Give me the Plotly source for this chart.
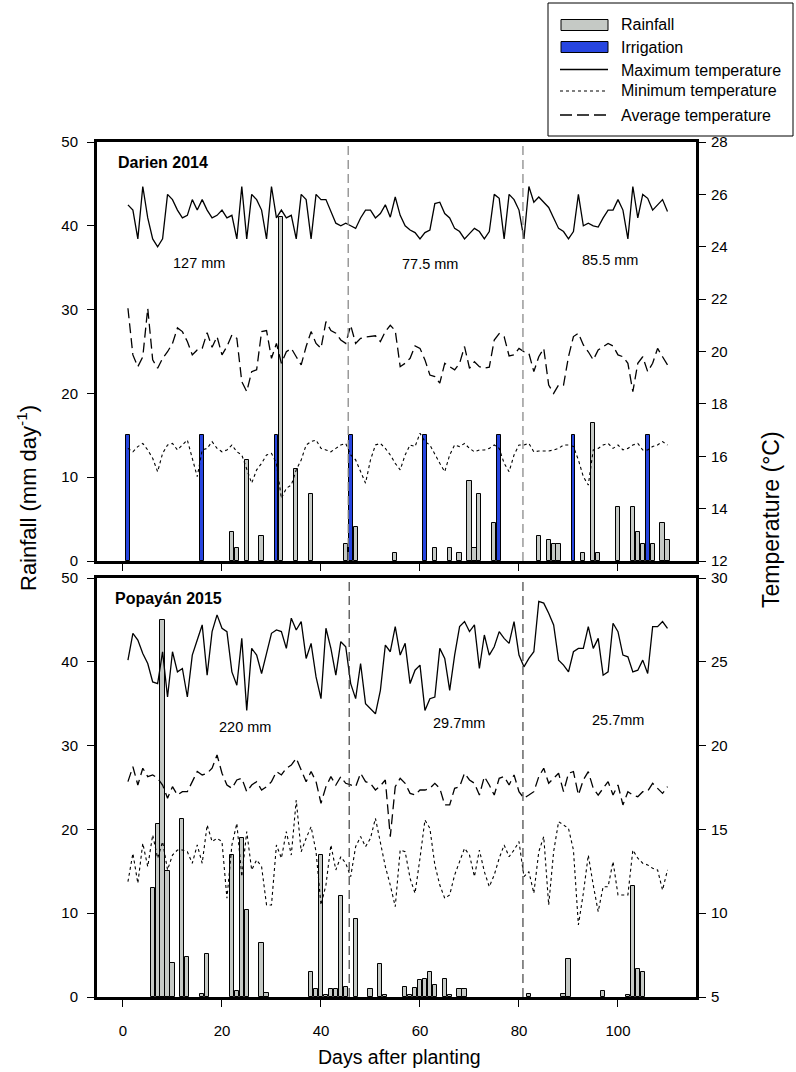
import plotly.graph_objects as go

# ---------------- data ----------------
days = list(range(1, 111))

top_max = [25.6, 25.4, 24.3, 26.3, 25.1, 24.3, 24.0, 24.3, 26.0, 25.8,
           25.4, 25.1, 25.2, 25.8, 25.4, 25.8, 25.4, 25.1, 25.2, 25.4,
           25.1, 25.2, 24.3, 26.3, 24.3, 26.0, 25.8, 25.4, 24.3, 26.3,
           25.1, 25.4, 25.1, 25.2, 24.3, 26.0, 25.8, 24.3, 26.0, 25.8,
           25.8, 25.35, 24.9, 24.8, 24.9, 24.8, 24.7, 25.1, 25.4, 25.4,
           25.1, 25.27, 25.6, 25.13, 25.9, 25.2, 24.8, 24.64, 24.54, 24.3,
           24.54, 24.64, 25.65, 25.7, 25.27, 25.1, 24.7, 24.58, 24.3, 24.5,
           24.7, 24.58, 24.3, 24.58, 26.0, 25.85, 24.3, 26.0, 25.8, 25.4,
           24.3, 26.3, 25.7, 25.9, 25.7, 25.5, 25.1, 24.7, 24.58, 24.3,
           24.58, 26.0, 24.8, 24.9, 24.8, 24.75, 25.1, 25.4, 25.4, 25.8,
           25.4, 24.3, 26.3, 25.1, 26.0, 25.85, 25.4, 25.6, 25.8, 25.35]

top_avg = [21.65, 19.87, 19.42, 19.8, 21.65, 19.68, 19.36, 19.74, 19.99, 20.31,
           20.9, 20.76, 20.38, 19.87, 20.06, 20.12, 20.72, 20.16, 20.57, 19.87,
           20.19, 20.63, 20.5, 18.85, 18.47, 19.23, 19.3, 20.76, 20.8, 19.74,
           20.31, 19.55, 19.99, 20.12, 19.8, 19.49, 20.19, 20.76, 20.31, 20.12,
           21.14, 20.8, 20.7, 20.44, 20.31, 21.0, 20.31, 20.5, 20.55, 20.57,
           20.6, 20.38, 20.76, 21.0, 20.8, 19.42, 19.55, 19.74, 20.21, 20.12,
           19.68, 19.1, 19.04, 18.79, 19.55, 19.42, 19.3, 19.55, 20.19, 19.36,
           19.61, 19.42, 19.36, 19.4, 20.44, 20.68, 20.57, 19.83, 19.87, 20.12,
           19.99, 19.93, 19.23, 19.8, 20.12, 18.72, 18.4, 18.72, 18.72, 19.8,
           20.57, 20.7, 20.25, 19.99, 19.68, 20.06, 20.19, 20.31, 20.21, 19.87,
           19.8, 19.55, 18.47, 19.55, 19.8, 19.23, 19.55, 20.12, 19.8, 19.49]

top_min = [16.3, 16.17, 16.37, 16.49, 16.24, 15.92, 15.41, 16.11, 16.43, 16.49,
           16.24, 16.43, 16.62, 15.92, 15.22, 16.24, 16.3, 16.56, 16.3, 16.17,
           16.24, 16.43, 16.17, 16.05, 15.48, 14.97, 15.48, 15.73, 16.05, 16.11,
           15.73, 14.39, 14.78, 14.9, 15.48, 15.86, 16.43, 16.56, 16.62, 16.3,
           16.24, 16.17, 16.3, 16.43, 16.49, 16.05, 15.86, 15.41, 14.97, 15.86,
           16.43, 16.49, 16.3, 16.05, 15.73, 15.48, 16.05, 16.43, 16.37, 16.88,
           16.56, 16.43, 16.05, 15.73, 15.41, 16.05, 16.43, 16.37, 16.49, 16.3,
           16.17, 16.24, 16.24, 16.3, 16.43, 16.3, 15.73, 15.41, 16.05, 16.43,
           16.43, 16.49, 16.17, 16.2, 16.2, 16.2, 16.24, 16.3, 16.43, 16.43,
           16.37, 15.86, 15.22, 14.9, 16.24, 16.3, 16.43, 16.49, 16.3, 16.43,
           16.24, 16.3, 16.43, 16.49, 16.24, 16.24, 16.37, 16.43, 16.56, 16.43]

top_rain_days = [22, 23, 25, 28, 32, 35, 38, 45, 47, 55, 63, 66, 68, 70, 71, 72, 75,
                 84, 86, 87, 88, 93, 95, 96, 100, 103, 104, 105, 107, 109, 110]
top_rain_mm = [3.5, 1.5, 12.0, 3.0, 41.0, 11.0, 8.0, 2.0, 4.0, 1.0, 1.5, 1.5, 1.0, 9.5, 1.5, 8.0, 4.5,
               3.0, 2.5, 2.0, 2.0, 1.0, 16.5, 1.0, 6.5, 6.5, 3.5, 2.0, 2.0, 4.5, 2.5]
top_irr_days = [1, 16, 31, 46, 61, 76, 91, 106]
top_irr_mm = [15, 15, 15, 15, 15, 15, 15, 15]

bot_max = [25.1, 26.7, 26.3, 25.5, 24.9, 23.8, 23.7, 25.6, 22.9, 25.6,
           24.4, 24.6, 22.9, 25.4, 26.3, 27.2, 24.2, 26.8, 27.8, 27.0,
           26.8, 24.4, 23.6, 26.4, 22.1, 25.8, 25.4, 24.3, 25.5, 26.7,
           26.9, 26.8, 25.8, 27.6, 26.9, 27.4, 25.2, 26.1, 24.1, 22.8,
           27.0, 25.8, 24.2, 26.2, 25.9, 23.7, 22.8, 24.9, 22.5, 22.2,
           21.9, 23.3, 26.0, 25.6, 27.1, 25.4, 26.1, 23.7, 24.5, 24.8,
           22.1, 22.8, 22.9, 25.8, 25.2, 23.3, 25.4, 27.1, 27.4, 26.8,
           27.2, 24.6, 26.6, 25.4, 25.9, 26.8, 26.4, 26.1, 27.4, 25.4,
           24.7, 25.2, 25.6, 28.6, 28.5, 27.9, 27.2, 25.1, 24.8, 24.4,
           25.6, 25.8, 25.8, 27.1, 25.8, 26.4, 24.2, 24.4, 27.3, 26.8,
           25.4, 25.3, 24.4, 24.5, 25.1, 24.3, 27.1, 27.1, 27.4, 27.0]

bot_avg = [17.85, 18.74, 17.65, 18.65, 18.15, 18.25, 18.05, 17.65, 16.86, 17.55,
           17.05, 17.25, 17.25, 17.85, 18.45, 18.25, 18.35, 18.65, 19.44, 18.35,
           17.65, 17.45, 17.95, 18.05, 17.25, 17.65, 17.85, 17.35, 17.55, 17.85,
           18.45, 18.25, 18.65, 18.84, 19.24, 18.55, 17.85, 18.45, 17.85, 16.56,
           17.55, 18.15, 17.65, 18.15, 17.75, 17.65, 17.55, 18.35, 17.85, 17.75,
           17.35, 17.6, 17.95, 14.57, 17.55, 18.05, 17.75, 17.15, 17.05, 17.35,
           17.35, 17.45, 17.75, 17.45, 16.46, 16.46, 17.45, 17.55, 18.35, 17.95,
           17.75, 17.05, 18.15, 17.65, 17.05, 18.05, 18.15, 17.65, 18.25, 17.25,
           16.86, 17.05, 17.25, 18.15, 18.65, 17.75, 18.05, 18.35, 17.25, 18.35,
           18.45, 17.05, 17.95, 18.45, 17.45, 17.05, 17.45, 17.85, 17.05, 17.65,
           16.46, 17.25, 17.05, 16.95, 17.25, 17.29, 17.75, 17.45, 17.15, 17.55]

bot_min = [11.88, 13.57, 11.78, 14.17, 12.78, 14.67, 13.28, 14.27, 12.58, 13.47,
           13.77, 13.77, 13.67, 12.98, 14.07, 12.98, 15.26, 14.27, 14.47, 14.27,
           10.89, 14.07, 15.36, 12.18, 14.87, 12.58, 13.18, 12.78, 10.49, 10.49,
           14.07, 13.28, 14.87, 13.47, 16.75, 13.67, 14.47, 15.16, 13.67, 10.49,
           11.68, 14.07, 12.58, 13.37, 12.98, 12.18, 13.97, 14.57, 13.97, 14.47,
           15.66, 14.27, 12.78, 11.68, 10.39, 13.77, 13.67, 12.08, 11.19, 13.28,
           15.56, 15.06, 12.88, 11.68, 10.89, 11.09, 12.28, 13.08, 13.87, 13.47,
           12.18, 13.77, 12.48, 11.58, 12.28, 13.28, 14.07, 13.37, 13.77, 14.27,
           12.18, 12.48, 11.19, 13.67, 14.57, 10.49, 13.67, 15.46, 15.26, 15.06,
           13.77, 9.3, 11.19, 13.47, 11.68, 10.09, 11.58, 11.58, 13.08, 11.09,
           11.09, 11.09, 13.77, 13.28, 12.98, 12.88, 12.68, 12.58, 11.38, 12.58]

bot_rain_days = [6, 7, 8, 9, 10, 12, 13, 16, 17, 22, 23, 24, 25, 28, 29,
                 38, 39, 40, 41, 42, 43, 44, 45, 47, 50, 52, 53,
                 57, 58, 59, 60, 61, 62, 63, 65, 66, 68, 69, 82, 89, 90, 97,
                 102, 103, 104, 105]
bot_rain_mm = [13.0, 20.7, 45.0, 15.0, 4.0, 21.2, 4.8, 0.3, 5.1, 17.0, 0.7, 19.0, 10.4, 6.4, 0.5,
               3.0, 1.0, 17.0, 0.2, 1.0, 1.0, 12.0, 1.2, 9.3, 1.0, 3.9, 0.2,
               1.2, 0.2, 1.1, 2.0, 2.2, 3.0, 1.4, 2.1, 0.2, 1.0, 1.0, 0.4, 0.4, 4.5, 0.7,
               0.2, 13.2, 3.3, 3.0]

top_phase_lines = [45.5, 80.8]
bot_phase_lines = [45.7, 80.8]
top_totals = ["127 mm", "77.5 mm", "85.5 mm"]
bot_totals = ["220 mm", "29.7mm", "25.7mm"]
x_ticks = [0, 20, 40, 60, 80, 100]
panel_titles = ["Darien 2014", "Popayán 2015"]
legend_labels = ["Rainfall", "Irrigation", "Maximum temperature",
                 "Minimum temperature", "Average temperature"]

# ---------------- styling ----------------
W, H = 796, 1072
FONT = "Liberation Sans, Arial, sans-serif"
RAIN_FILL = "#c5c9c5"
IRR_FILL = "#2745e0"
DASH = "10px,5px"


def px(x):
    return x / W


def py(y):
    return 1 - y / H


XDOM = [px(97), px(696)]
TOPDOM = [py(561), py(142)]
BOTDOM = [py(997), py(578)]
XRANGE = [-5.25, 115.76]

fig = go.Figure()

# bars
fig.add_trace(go.Bar(x=top_rain_days, y=top_rain_mm, xaxis="x", yaxis="y", width=0.85,
                     marker=dict(color=RAIN_FILL, line=dict(color="black", width=1)),
                     name="Rainfall", showlegend=False))
fig.add_trace(go.Bar(x=top_irr_days, y=top_irr_mm, xaxis="x", yaxis="y", width=0.75,
                     marker=dict(color=IRR_FILL, line=dict(color="black", width=1)),
                     name="Irrigation", showlegend=False))
fig.add_trace(go.Bar(x=bot_rain_days, y=bot_rain_mm, xaxis="x2", yaxis="y3", width=0.85,
                     marker=dict(color=RAIN_FILL, line=dict(color="black", width=1)),
                     name="Rainfall", showlegend=False))

# temperature lines
for xa, ya, mx, av, mn in [("x", "y2", top_max, top_avg, top_min),
                            ("x2", "y4", bot_max, bot_avg, bot_min)]:
    fig.add_trace(go.Scatter(x=days, y=mx, xaxis=xa, yaxis=ya, mode="lines",
                             line=dict(color="black", width=1.3), showlegend=False))
    fig.add_trace(go.Scatter(x=days, y=av, xaxis=xa, yaxis=ya, mode="lines",
                             line=dict(color="black", width=1.3, dash=DASH), showlegend=False))
    fig.add_trace(go.Scatter(x=days, y=mn, xaxis=xa, yaxis=ya, mode="lines",
                             line=dict(color="black", width=1.1, dash="dot"), showlegend=False))

tickfont = dict(family=FONT, size=15, color="black")
common_x = dict(domain=XDOM, range=XRANGE, tickvals=x_ticks, ticks="outside", ticklen=7,
                tickwidth=1, tickcolor="black", showline=True, linewidth=3, linecolor="black",
                mirror=True, showgrid=False, zeroline=False, tickfont=tickfont,
                automargin=False)
left_y = dict(range=[0, 50], dtick=10, ticks="outside", ticklen=7, tickwidth=1, tickcolor="black",
              showline=True, linewidth=3, linecolor="black", showgrid=False, zeroline=False,
              tickfont=tickfont, ticklabelstandoff=6, automargin=False)
right_y = dict(side="right", ticks="outside", ticklen=7, tickwidth=1, tickcolor="black",
               showline=True, linewidth=3, linecolor="black", showgrid=False, zeroline=False,
               tickfont=tickfont, ticklabelstandoff=2, automargin=False)

fig.update_layout(
    template="none",
    width=W, height=H, margin=dict(l=0, r=0, t=0, b=0, pad=0, autoexpand=False),
    paper_bgcolor="white", plot_bgcolor="white", barmode="overlay", bargap=0,
    font=dict(family=FONT, color="black"),
    xaxis=dict(anchor="y", showticklabels=False, **common_x),
    xaxis2=dict(anchor="y3", showticklabels=True, ticklabelstandoff=11, **common_x),
    yaxis=dict(domain=TOPDOM, anchor="x", **left_y),
    yaxis2=dict(overlaying="y", anchor="x", range=[12, 28], dtick=2, **right_y),
    yaxis3=dict(domain=BOTDOM, anchor="x2", **left_y),
    yaxis4=dict(overlaying="y3", anchor="x2", range=[5, 30], dtick=5, **right_y),
)

shapes = []
for xv in top_phase_lines:
    shapes.append(dict(type="line", xref="x", yref="y domain", x0=xv, x1=xv, y0=0, y1=1,
                       line=dict(color="#8a8a8a", width=1.3, dash="9px,5px")))
for xv in bot_phase_lines:
    shapes.append(dict(type="line", xref="x2", yref="y3 domain", x0=xv, x1=xv, y0=0, y1=1,
                       line=dict(color="#404040", width=1.2, dash="9px,5px")))

# legend box (drawn manually to match the reference layout)
shapes.append(dict(type="rect", xref="paper", yref="paper", x0=px(548), x1=px(793),
                   y0=py(136), y1=py(3), line=dict(color="black", width=1), fillcolor="white"))
shapes.append(dict(type="rect", xref="paper", yref="paper", x0=px(561), x1=px(608),
                   y0=py(30.5), y1=py(19.5), line=dict(color="black", width=1), fillcolor=RAIN_FILL))
shapes.append(dict(type="rect", xref="paper", yref="paper", x0=px(561), x1=px(608),
                   y0=py(52.5), y1=py(41.5), line=dict(color="black", width=1), fillcolor=IRR_FILL))
shapes.append(dict(type="line", xref="paper", yref="paper", x0=px(560), x1=px(608),
                   y0=py(69.5), y1=py(69.5), line=dict(color="black", width=1.3)))
shapes.append(dict(type="line", xref="paper", yref="paper", x0=px(560), x1=px(608),
                   y0=py(91), y1=py(91), line=dict(color="black", width=1.1, dash="dot")))
shapes.append(dict(type="line", xref="paper", yref="paper", x0=px(560), x1=px(608),
                   y0=py(115), y1=py(115), line=dict(color="black", width=1.3, dash="12px,5px")))
fig.update_layout(shapes=shapes)

ann = []
leg_y = [25, 47.5, 70.5, 91, 115]
for lab, yy in zip(legend_labels, leg_y):
    ann.append(dict(text=lab, xref="paper", yref="paper", x=px(619), y=py(yy),
                    xanchor="left", yanchor="middle", showarrow=False,
                    font=dict(family=FONT, size=16)))

# panel titles
ann.append(dict(text="<b>%s</b>" % panel_titles[0], xref="x domain", yref="y domain",
                x=0.032, y=0.95, xanchor="left", yanchor="middle", showarrow=False,
                font=dict(family=FONT, size=16)))
ann.append(dict(text="<b>%s</b>" % panel_titles[1], xref="x2 domain", yref="y3 domain",
                x=0.026, y=0.95, xanchor="left", yanchor="middle", showarrow=False,
                font=dict(family=FONT, size=16)))

# phase totals
for txt, xv, yv in zip(top_totals, [15.4, 62.0, 98.4], [35.6, 35.4, 35.9]):
    ann.append(dict(text=txt, xref="x", yref="y", x=xv, y=yv, showarrow=False,
                    xanchor="center", yanchor="middle", font=dict(family=FONT, size=14.5)))
for txt, xv, yv in zip(bot_totals, [24.6, 67.9, 100.0], [32.2, 32.7, 33.0]):
    ann.append(dict(text=txt, xref="x2", yref="y3", x=xv, y=yv, showarrow=False,
                    xanchor="center", yanchor="middle", font=dict(family=FONT, size=14.5)))

# axis titles
ann.append(dict(text="Rainfall (mm day<sup>-1</sup>)", xref="paper", yref="paper",
                x=px(27), y=py(498), xanchor="center", yanchor="middle",
                textangle=-90, showarrow=False, font=dict(family=FONT, size=22)))
ann.append(dict(text="Temperature (°C)", xref="paper", yref="paper",
                x=px(771), y=py(520), xanchor="center", yanchor="middle",
                textangle=-90, showarrow=False, font=dict(family=FONT, size=23)))
ann.append(dict(text="Days after planting", xref="paper", yref="paper",
                x=px(400), y=py(1057), xanchor="center", yanchor="middle",
                showarrow=False, font=dict(family=FONT, size=19.5)))
fig.update_layout(annotations=ann)

fig.write_html("out.html", config={"displayModeBar": False},
               post_script="document.body.style.margin='0';document.body.style.padding='0';")
